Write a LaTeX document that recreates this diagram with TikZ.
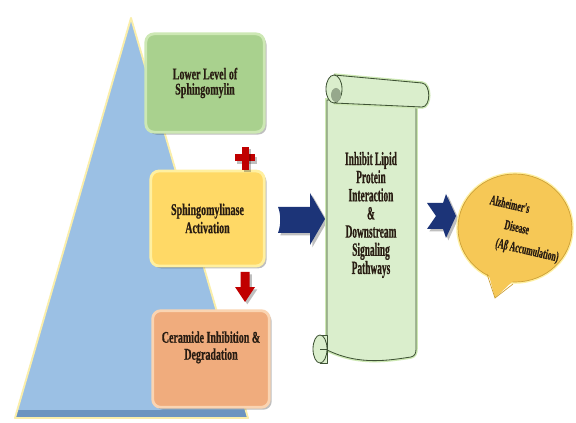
\documentclass[tikz,border=0pt]{standalone}
\usepackage{fontspec}
\setmainfont{Liberation Serif}
\newfontfamily\adboxfont[FakeStretch=0.61, FakeBold=0.6]{Liberation Serif Bold}
\newfontfamily\adscrollfont[FakeStretch=0.5, FakeBold=0.6]{Liberation Serif Bold}
\newfontfamily\adbubblefont[FakeStretch=0.56, FakeBold=0.5]{Liberation Serif Bold}
\usetikzlibrary{shadows}
\definecolor{adtrifill}{RGB}{155,192,228}
\definecolor{adtribase}{RGB}{108,148,192}
\definecolor{adtriedge}{RGB}{250,238,170}
\definecolor{adgreen}{RGB}{169,209,142}
\definecolor{adgreenglow}{RGB}{205,232,180}
\definecolor{adyellow}{RGB}{255,217,102}
\definecolor{adyellowglow}{RGB}{255,240,160}
\definecolor{adorange}{RGB}{240,172,125}
\definecolor{adorangeglow}{RGB}{250,212,178}
\definecolor{adred}{RGB}{192,0,0}
\definecolor{adnavy}{RGB}{28,52,120}
\definecolor{adscrollfill}{RGB}{218,238,204}
\definecolor{adscrolledge}{RGB}{62,82,52}
\definecolor{adscrollcurl}{RGB}{150,168,140}
\definecolor{adgold}{RGB}{246,200,86}
\definecolor{adgoldedge}{RGB}{205,160,55}
\definecolor{adtext}{RGB}{40,28,18}
\tikzset{
  adshadow/.style={drop shadow={shadow xshift=2pt, shadow yshift=-2pt, opacity=0.25, fill=black}},
  adtri/.style={fill=adtrifill},
  adtriedge/.style={draw=adtriedge, line width=1.6pt, line join=round},
  adbox/.style={rounded corners=7pt, line width=2.4pt, align=center, text=adtext,
    font=\adboxfont\fontsize{14}{13}\selectfont, adshadow},
  adred/.style={fill=adred, adshadow},
  adblue/.style={fill=adnavy, adshadow},
  adscroll/.style={fill=adscrollfill, draw=adscrolledge, line width=0.7pt, line join=round},
  adscrolltext/.style={align=center, text=adtext,
    font=\adscrollfont\fontsize{16}{15.5}\selectfont},
  adbubble/.style={fill=adgold, draw=adgoldedge, line width=0.6pt,
    preaction={draw=adyellowglow, line width=3pt}},
  adbubbletext/.style={text=adtext, rotate=-13, inner sep=0pt,
    font=\adbubblefont\fontsize{12}{14}\selectfont},
}
\begin{document}
\begin{tikzpicture}[x=0.03cm,y=-0.03cm]
\useasboundingbox[fill=white] (0,0) rectangle (576,423);
% pyramid
\fill[adtri] (131,18) -- (248,418) -- (15,418) -- cycle;
\fill[adtribase] (18,410) -- (246,410) -- (248,418) -- (15,418) -- cycle;
\draw[adtriedge] (131,18) -- (248,418) -- (15,418) -- cycle;
% the three steps
\node[adbox, fill=adgreen, draw=adgreenglow, minimum width=3.55cm, minimum height=2.95cm]
  (lowlevel) at (205,83) {Lower Level of\\Sphingomylin};
\node[adbox, fill=adyellow, draw=adyellowglow, minimum width=3.4cm, minimum height=2.85cm,
  font=\adboxfont\fontsize{14}{15.5}\selectfont]
  (activation) at (207.5,218.5) {Sphingomylinase\\Activation};
\node[adbox, fill=adorange, draw=adorangeglow, minimum width=3.5cm, minimum height=2.9cm,
  font=\adboxfont\fontsize{14}{14.5}\selectfont]
  (ceramide) at (211,359) {Ceramide Inhibition \&\\Degradation\rule[-23pt]{0pt}{0pt}};
% plus and down arrow
\fill[adred] (235,154.5) rectangle (255,161.5);
\fill[adred] (241.5,147) rectangle (248.5,170);
\fill[adred] (240.5,272) -- (249.5,272) -- (249.5,287) -- (255,287) -- (245,302)
  -- (235,287) -- (240.5,287) -- cycle;
% blue arrows
\fill[adblue] (278,207) -- (310,207) -- (310,193) -- (325,219) -- (310,245)
  -- (310,233) -- (278,233) .. controls (281,225) and (281,214) .. (278,207) -- cycle;
\fill[adblue] (427,203) -- (443,203) -- (446,194) -- (456,216) -- (446,238)
  -- (443,229) -- (427,229) -- (436,216) -- cycle;
% scroll
\draw[adscroll, preaction={draw=adgreenglow, line width=3pt}]
  (327,100) -- (327,350) .. controls (360,366) and (390,360) .. (411,357)
  .. controls (415,356) and (416,353) .. (416,349) -- (416,100) -- cycle;
\draw[adscroll] (320,335) -- (327,335) -- (327,363) -- (320,363);
\draw[adscroll] (320,349) ellipse (7 and 14);
\draw[adscrolledge, line width=0.6pt] (320,349) -- (327,349);
\draw[adscroll, preaction={draw=adgreenglow, line width=3pt}]
  (334,75) -- (422,83) .. controls (431,84) and (431,107) .. (422,107) -- (334,103);
\draw[adscroll] (334,89) ellipse (8 and 14);
\fill[adscrollcurl] (336,95) ellipse (5 and 7);
\node[adscrolltext] (pathway) at (371,215)
  {Inhibit Lipid\\Protein\\Interaction\\\&\\Downstream\\Signaling\\Pathways};
% speech bubble
\draw[adbubble] (515,228) ellipse (57 and 54);
\fill[adgold] (487,268) -- (495,298) -- (514,280) -- cycle;
\draw[adgoldedge, line width=0.6pt] (487,274) -- (495,298) -- (513,284);
\node[adbubbletext] (alzheimer) at (510,204) {Alzheimer's};
\node[adbubbletext] (disease) at (517,227) {Disease};
\node[adbubbletext] (abeta) at (527,251) {(Aβ Accumulation)};
\end{tikzpicture}
\end{document}
